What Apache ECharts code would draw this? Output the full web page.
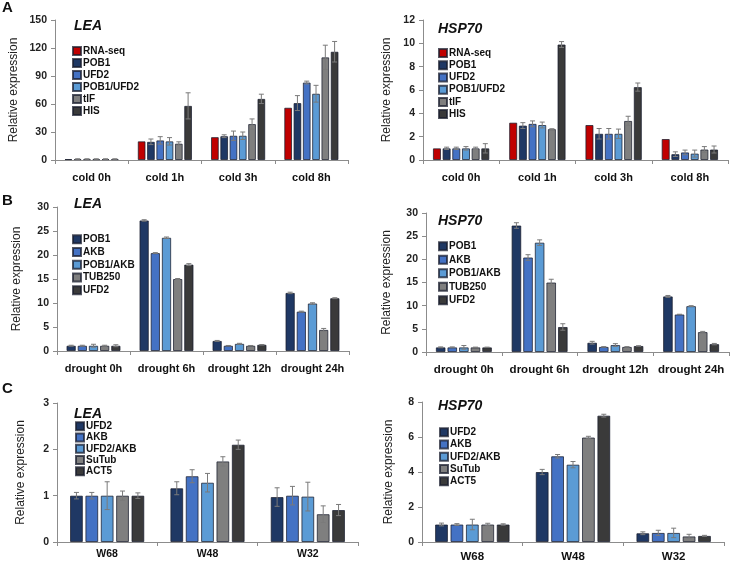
<!DOCTYPE html>
<html>
<head>
<meta charset="utf-8">
<script src="https://cdn.jsdelivr.net/npm/echarts@6/dist/echarts.min.js"></script>
<style>
html,body{margin:0;padding:0;background:#fff;}
#chart{width:730px;height:563px;}
</style>
</head>
<body>
<div id="chart"></div>
<script>
// ---------- DATA ----------
const coldCats = ['cold 0h', 'cold 1h', 'cold 3h', 'cold 8h'];
const coldSeries = ['RNA-seq', 'POB1', 'UFD2', 'POB1/UFD2', 'tIF', 'HIS'];
const coldLeaValues = [
  [1, 20, 24.5, 56],
  [1, 19.5, 25.5, 61],
  [1, 21, 26, 83],
  [1, 20, 26, 71],
  [1, 17.5, 38.5, 110],
  [1, 58, 65.5, 116]
];
const coldLeaErrors = [
  [null, null, null, null],
  [0.3, 3, 1.5, 8],
  [0.3, 4, 5, 1.5],
  [0.3, 4, 4, 9],
  [0.3, 2, 5.5, 13],
  [0.3, 14, 5, 11]
];
const coldHspValues = [
  [1.0, 3.2, 3.0, 1.8],
  [1.0, 2.95, 2.25, 0.5],
  [1.0, 3.1, 2.25, 0.65],
  [1.0, 3.0, 2.25, 0.55],
  [1.0, 2.65, 3.35, 0.9],
  [1.0, 9.9, 6.25, 0.9]
];
const coldHspErrors = [
  [null, null, null, null],
  [0.1, 0.25, 0.45, 0.2],
  [0.1, 0.25, 0.45, 0.2],
  [0.15, 0.25, 0.4, 0.3],
  [0.1, 0.03, 0.4, 0.25],
  [0.4, 0.25, 0.35, 0.3]
];

const droughtCats = ['drought 0h', 'drought 6h', 'drought 12h', 'drought 24h'];
const droughtSeries = ['POB1', 'AKB', 'POB1/AKB', 'TUB250', 'UFD2'];
const droughtLeaValues = [
  [1.1, 27.2, 2.1, 12.1],
  [1.1, 20.4, 1.1, 8.2],
  [1.1, 23.6, 1.5, 9.9],
  [1.1, 15.0, 1.1, 4.4],
  [1.1, 18.0, 1.3, 11.0]
];
const droughtLeaErrors = [
  [0.1, 0.15, 0.1, 0.15],
  [0.1, 0.1, 0.05, 0.1],
  [0.3, 0.15, 0.1, 0.15],
  [0.1, 0.1, 0.05, 0.3],
  [0.2, 0.2, 0.05, 0.1]
];
const droughtHspValues = [
  [1.0, 27.3, 2.0, 12.0],
  [1.0, 20.4, 1.1, 8.1],
  [1.0, 23.6, 1.5, 9.9],
  [1.0, 15.0, 1.1, 4.3],
  [1.0, 5.4, 1.3, 1.7]
];
const droughtHspErrors = [
  [0.1, 0.6, 0.3, 0.2],
  [0.1, 0.6, 0.05, 0.05],
  [0.4, 0.6, 0.3, 0.1],
  [0.05, 0.7, 0.05, 0.15],
  [0.05, 0.7, 0.05, 0.15]
];

const weekCats = ['W68', 'W48', 'W32'];
const weekSeries = ['UFD2', 'AKB', 'UFD2/AKB', 'SuTub', 'ACT5'];
const weekLeaValues = [
  [1.0, 1.16, 0.97],
  [1.0, 1.42, 1.0],
  [1.0, 1.28, 0.98],
  [1.0, 1.74, 0.6],
  [1.0, 2.1, 0.69]
];
const weekLeaErrors = [
  [0.07, 0.14, 0.2],
  [0.07, 0.14, 0.2],
  [0.3, 0.2, 0.31],
  [0.1, 0.1, 0.18],
  [0.06, 0.1, 0.12]
];
const weekHspValues = [
  [1.0, 4.0, 0.5],
  [1.0, 4.9, 0.52],
  [1.0, 4.42, 0.52],
  [1.0, 5.97, 0.32],
  [1.0, 7.22, 0.35]
];
const weekHspErrors = [
  [0.08, 0.15, 0.08],
  [0.05, 0.1, 0.15],
  [0.3, 0.18, 0.27],
  [0.07, 0.07, 0.12],
  [0.04, 0.08, 0.03]
];

// ---------- STYLE ----------
const RED = '#c00000', NAVY = '#1f3864', BLUE = '#4472c4', LBLUE = '#5b9bd5', GRAY = '#7f7f7f', DARK = '#3a3a3a';
const coldColors = [RED, NAVY, BLUE, LBLUE, GRAY, DARK];
const fiveColors = [NAVY, BLUE, LBLUE, GRAY, DARK];
const FONT = '"Liberation Sans", Arial, sans-serif';
const CAT_GAP = 0.26, BAR_GAP = 0.2;

const panels = [
  {cats: coldCats, names: coldSeries, colors: coldColors, values: coldLeaValues, errors: coldLeaErrors, max: 150, interval: 30,
   grid: {left: 55, top: 20, width: 293, height: 140}, gene: 'LEA', title: [74, 27], legend: [72, 45, 12], nameGap: 35, labelMargin: 12, labelSize: 11},
  {cats: coldCats, names: coldSeries, colors: coldColors, values: coldHspValues, errors: coldHspErrors, max: 12, interval: 2,
   grid: {left: 423, top: 20, width: 305, height: 140}, gene: 'HSP70', title: [438, 30], legend: [438, 47, 12.2], nameGap: 30, labelMargin: 12, labelSize: 11},
  {cats: droughtCats, names: droughtSeries, colors: fiveColors, values: droughtLeaValues, errors: droughtLeaErrors, max: 30, interval: 5,
   grid: {left: 57, top: 207, width: 292, height: 144}, gene: 'LEA', title: [74, 205.5], legend: [72, 233, 12.7], nameGap: 34, labelMargin: 12, labelSize: 11},
  {cats: droughtCats, names: droughtSeries, colors: fiveColors, values: droughtHspValues, errors: droughtHspErrors, max: 30, interval: 5,
   grid: {left: 426, top: 213, width: 303, height: 139}, gene: 'HSP70', title: [438, 222.5], legend: [438, 239.5, 13.5], nameGap: 33, labelMargin: 12, labelSize: 11.5},
  {cats: weekCats, names: weekSeries, colors: fiveColors, values: weekLeaValues, errors: weekLeaErrors, max: 3, interval: 1,
   grid: {left: 57, top: 403, width: 301, height: 139}, gene: 'LEA', title: [74, 415], legend: [75, 420.5, 11.3], nameGap: 30, labelMargin: 7, labelSize: 10.5},
  {cats: weekCats, names: weekSeries, colors: fiveColors, values: weekHspValues, errors: weekHspErrors, max: 8, interval: 2,
   grid: {left: 422, top: 402, width: 302, height: 140}, gene: 'HSP70', title: [438, 407], legend: [439, 426, 12.3], nameGap: 27, labelMargin: 9, labelSize: 11.5}
];

const option = {
  animation: false,
  backgroundColor: '#fff',
  textStyle: {fontFamily: FONT},
  grid: [], xAxis: [], yAxis: [], series: [], legend: [], graphic: []
};

panels.forEach((p, gi) => {
  option.grid.push(Object.assign({containLabel: false}, p.grid));
  option.xAxis.push({
    type: 'category', gridIndex: gi, data: p.cats,
    axisLine: {lineStyle: {color: '#8c8c8c', width: 1}},
    axisTick: {show: true, length: 4, lineStyle: {color: '#8c8c8c'}},
    axisLabel: {interval: 0, hideOverlap: false, fontFamily: FONT, fontSize: p.labelSize, fontWeight: 'bold', color: '#111', margin: p.labelMargin},
    splitLine: {show: false}
  });
  option.yAxis.push({
    type: 'value', gridIndex: gi, min: 0, max: p.max, interval: p.interval,
    name: 'Relative expression', nameLocation: 'middle', nameGap: p.nameGap,
    nameTextStyle: {fontFamily: FONT, fontSize: 12, color: '#222'},
    axisLine: {show: true, lineStyle: {color: '#8c8c8c', width: 1}},
    axisTick: {show: true, length: 4, lineStyle: {color: '#8c8c8c'}},
    axisLabel: {fontFamily: FONT, fontSize: 10.5, fontWeight: 'bold', color: '#222', margin: 8},
    splitLine: {show: false}
  });
  const n = p.names.length;
  const legendData = [];
  p.names.forEach((nm, si) => {
    const sname = gi + '|' + nm;
    legendData.push(sname);
    option.series.push({
      type: 'bar', name: sname, xAxisIndex: gi, yAxisIndex: gi,
      data: p.values[si], barCategoryGap: (CAT_GAP * 100) + '%', barGap: (BAR_GAP * 100) + '%',
      itemStyle: {color: p.colors[si], borderColor: 'rgba(25,30,45,0.75)', borderWidth: 1},
      z: 2
    });
  });
  // error bars
  p.names.forEach((nm, si) => {
    const data = [];
    p.values[si].forEach((v, ci) => {
      const e = p.errors[si][ci];
      if (e != null) data.push([ci, v, e]);
    });
    option.series.push({
      type: 'custom', xAxisIndex: gi, yAxisIndex: gi, z: 5, silent: true,
      encode: {x: 0, y: 1},
      data: data,
      renderItem: function (params, api) {
        const ci = api.value(0), v = api.value(1), e = api.value(2);
        const band = api.size([1, 0])[0];
        const usable = band * (1 - CAT_GAP);
        const bw = usable / (n + (n - 1) * BAR_GAP);
        const center = api.coord([ci, v])[0] - usable / 2 + si * bw * (1 + BAR_GAP) + bw / 2;
        const yTop = api.coord([ci, v + e])[1];
        const yBot = api.coord([ci, Math.max(0, v - e)])[1];
        const cap = 2.5;
        const st = {stroke: '#7a7a7a', lineWidth: 1, fill: null};
        return {
          type: 'group',
          children: [
            {type: 'line', shape: {x1: center, y1: yTop, x2: center, y2: yBot}, style: st},
            {type: 'line', shape: {x1: center - cap, y1: yTop, x2: center + cap, y2: yTop}, style: st},
            {type: 'line', shape: {x1: center - cap, y1: yBot, x2: center + cap, y2: yBot}, style: st}
          ]
        };
      }
    });
  });
  option.legend.push({
    orient: 'vertical', left: p.legend[0], top: p.legend[1], padding: 0,
    itemWidth: 8, itemHeight: 8, itemGap: 0, selectedMode: false,
    data: legendData,
    icon: 'rect',
    formatter: nm => nm.split('|')[1],
    textStyle: {fontFamily: FONT, fontSize: 10, fontWeight: 'bold', color: '#111', lineHeight: p.legend[2], padding: [0, 0, 0, -3]}
  });
  option.graphic.push({
    type: 'text', left: p.title[0], top: p.title[1] - 8,
    style: {text: p.gene, fontFamily: FONT, fontSize: 14, fontWeight: 'bold', fontStyle: 'italic', fill: '#111'}
  });
});

// panel letters
[['A', 2, 0], ['B', 2, 193], ['C', 2, 381]].forEach(l => {
  option.graphic.push({type: 'text', left: l[1], top: l[2], style: {text: l[0], fontFamily: FONT, fontSize: 15, fontWeight: 'bold', fill: '#111'}});
});

const chart = echarts.init(document.getElementById('chart'), null, {renderer: 'canvas'});
chart.setOption(option);
</script>
</body>
</html>
